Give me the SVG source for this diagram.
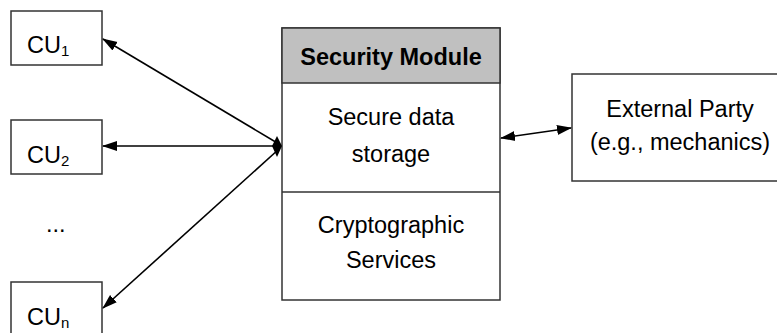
<svg xmlns="http://www.w3.org/2000/svg" width="777" height="333" viewBox="0 0 777 333">
<style>
.box{fill:#fff;stroke:#333;stroke-width:1.5}
.hdr{fill:#c0c0c0;stroke:#333;stroke-width:1.5}
.t{font-family:"Liberation Sans",Arial,sans-serif;font-size:23.5px;fill:#000}
.tb{font-family:"Liberation Sans",Arial,sans-serif;font-size:23.5px;font-weight:bold;fill:#000}
.sub{font-size:15px}
.c{fill:none;stroke:#000;stroke-width:1.6}
</style>
<defs>
<marker id="ah" markerUnits="userSpaceOnUse" markerWidth="15" markerHeight="12" refX="14" refY="5" orient="auto-start-reverse" viewBox="0 0 15 10">
<path d="M0,0 L15,5 L0,10 z" fill="#000"/>
</marker>
</defs>
<g id="cu1">
<rect class="box" x="11" y="11" width="91" height="54"/>
<text class="t" x="27" y="53">CU<tspan class="sub" dy="3">1</tspan></text>
</g>
<g id="cu2">
<rect class="box" x="11" y="120" width="91" height="54"/>
<text class="t" x="27" y="163">CU<tspan class="sub" dy="3">2</tspan></text>
</g>
<g id="dots">
<text class="t" x="46" y="232">...</text>
</g>
<g id="cun">
<rect class="box" x="11" y="282" width="91" height="60"/>
<text class="t" x="27" y="325">CU<tspan class="sub" dy="3">n</tspan></text>
</g>
<g id="security-module">
<rect class="box" x="282" y="28" width="218" height="272"/>
<rect class="hdr" x="282" y="28" width="218" height="55"/>
<line x1="282" y1="192" x2="500" y2="192" stroke="#333" stroke-width="1.5"/>
<text class="tb" x="391" y="65" text-anchor="middle">Security Module</text>
<text class="t" x="391" y="125" text-anchor="middle">Secure data</text>
<text class="t" x="391" y="162" text-anchor="middle">storage</text>
<text class="t" x="391" y="233" text-anchor="middle">Cryptographic</text>
<text class="t" x="391" y="268" text-anchor="middle">Services</text>
</g>
<g id="external-party">
<rect class="box" x="572" y="74" width="210" height="107"/>
<text class="t" x="680" y="117" text-anchor="middle">External Party</text>
<text class="t" x="680" y="150" text-anchor="middle">(e.g., mechanics)</text>
</g>
<g id="connectors">
<line class="c" x1="279" y1="144" x2="103" y2="39" marker-end="url(#ah)"/>
<line class="c" x1="279" y1="146" x2="103" y2="146" marker-end="url(#ah)"/>
<line class="c" x1="279" y1="149" x2="103" y2="308" marker-end="url(#ah)"/>
<polygon points="272,146 277,136 282,146 277,157" fill="#000"/>
<line class="c" x1="501" y1="138" x2="571" y2="128" marker-start="url(#ah)" marker-end="url(#ah)"/>
</g>
</svg>
